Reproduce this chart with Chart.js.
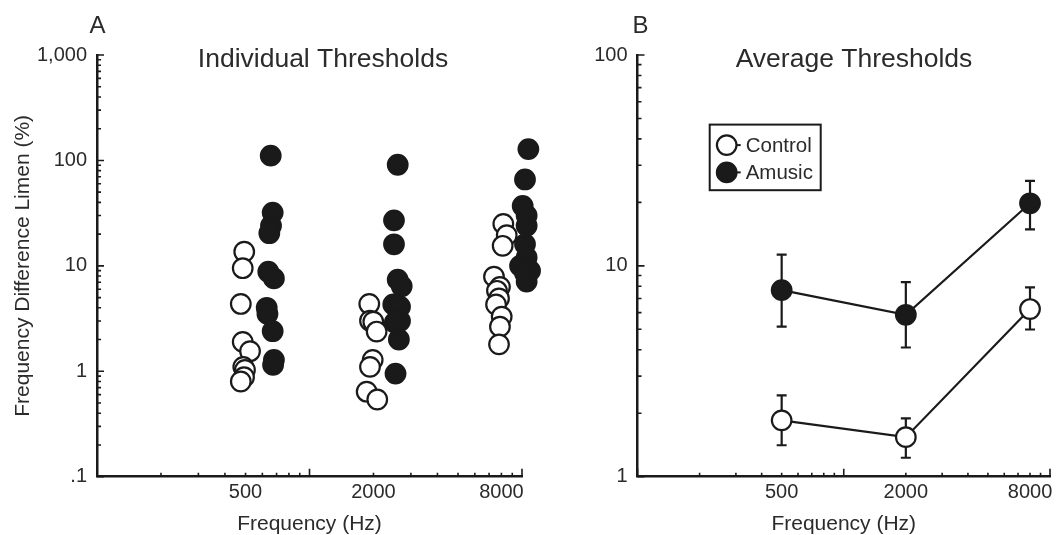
<!DOCTYPE html>
<html>
<head>
<meta charset="utf-8">
<title>Frequency difference limens</title>
<script src="https://cdn.jsdelivr.net/npm/chart.js@4.4.1/dist/chart.umd.min.js"></script>
<style>
  body { margin: 0; background: #fff; }
  #wrap { position: relative; width: 1062px; height: 535px; }
  canvas { position: absolute; top: 0; }
  #indiv { left: 0; }
  #avg { left: 560px; }
</style>
</head>
<body>
<div id="wrap">
  <canvas id="indiv" width="560" height="535"></canvas>
  <canvas id="avg" width="502" height="535"></canvas>
</div>
<script>
// Individual difference limens (%). Each listener sits a little apart from the
// band centre so the circles don't pile on top of each other.
const controlHz = [493, 485, 475, 485, 525, 488, 497, 492, 475,
                   1911, 1926, 1996, 2070, 1983, 1926, 1858, 2084,
                   8166, 8474, 8110, 7382, 7874, 7624, 7795, 7548, 8025, 7874, 7795];
const controlDL = [13.6, 9.5, 4.35, 1.9, 1.55, 1.1, 1.03, 0.88, 0.8,
                   4.35, 3.02, 2.95, 2.38, 1.28, 1.1, 0.64, 0.54,
                   25, 19.5, 15.5, 7.9, 6.3, 5.8, 4.9, 4.3, 3.3, 2.65, 1.8];
const amusicHz = [657, 671, 659, 647, 640, 680, 629, 634, 671, 680, 674,
                  2601, 2498, 2498, 2601, 2716, 2479, 2666, 2666, 2520, 2634, 2540,
                  10715, 10330, 10075, 10515, 10515, 10330, 10515, 9790, 10910, 10330, 10515];
const amusicDL = [111, 32, 24, 20.4, 8.8, 7.6, 4.0, 3.5, 2.4, 1.28, 1.15,
                  91, 27, 16, 7.4, 6.4, 4.3, 4.1, 3.0, 2.9, 2.0, 0.95,
                  128, 66, 37, 30, 24, 16, 12, 10, 9, 8.5, 7.1];

// group averages with error bar limits
const bands = [500, 2000, 8000];
const controlMean = [1.85, 1.54, 6.24];
const controlLow = [1.41, 1.23, 4.99];
const controlHigh = [2.43, 1.89, 7.9];
const amusicMean = [7.67, 5.86, 19.8];
const amusicLow = [5.15, 4.1, 14.9];
const amusicHigh = [11.3, 8.38, 25.3];

// labelled ticks
const freqLabels = [500, 2000, 8000];
const limenValuesA = [0.1, 1, 10, 100, 1000];
const limenTextA = ['.1', '1', '10', '100', '1,000'];
const limenValuesB = [1, 10, 100];
const limenTextB = ['1', '10', '100'];

const ink = '#1a1a1a';
const textColor = '#2b2b2b';
const fontFamily = '"Liberation Sans", Arial, Helvetica, sans-serif';

// 1..9 x 10^n marks between min and max
function logMarks(min, max) {
    const out = [];
    for (let dec = min; dec < max - 1e-9; dec *= 10) {
        for (let m = 1; m < 10; m++) out.push(Math.round(m * dec * 1000) / 1000);
    }
    out.push(max);
    return out;
}

function isDecade(v) {
    const l = Math.log10(v);
    return Math.abs(l - Math.round(l)) < 1e-9;
}

function freqAxis() {
    return {
        type: 'logarithmic',
        position: 'bottom',
        min: 100,
        max: 10000,
        grid: { display: false, drawTicks: false },
        border: { display: true, color: ink, width: 2.5 },
        afterBuildTicks: s => { s.ticks = logMarks(100, 10000).map(v => ({ value: v })); },
        afterFit: s => { s.height = 58.3; },
        ticks: {
            autoSkip: false,
            maxRotation: 0,
            padding: 4,
            color: textColor,
            font: { family: fontFamily, size: 20 },
            callback: v => freqLabels.includes(v) ? String(v) : ''
        },
        title: {
            display: true,
            text: 'Frequency (Hz)',
            color: textColor,
            font: { family: fontFamily, size: 21, lineHeight: 1 },
            padding: { top: 0, bottom: 0 }
        }
    };
}

function limenAxis(min, max, values, text, width, withTitle) {
    return {
        type: 'logarithmic',
        position: 'left',
        min: min,
        max: max,
        grid: { display: false, drawTicks: false },
        border: { display: true, color: ink, width: 2.5 },
        afterBuildTicks: s => { s.ticks = logMarks(min, max).map(v => ({ value: v })); },
        afterFit: s => { s.width = width; },
        ticks: {
            autoSkip: false,
            padding: 10,
            color: textColor,
            font: { family: fontFamily, size: 20 },
            callback: v => {
                const i = values.findIndex(t => Math.abs(t - v) < 1e-9);
                return i >= 0 ? text[i] : '';
            }
        },
        title: {
            display: withTitle,
            text: 'Frequency Difference Limen (%)',
            color: textColor,
            font: { family: fontFamily, size: 21, lineHeight: 1 },
            padding: { top: 13, bottom: 0 }
        }
    };
}

// inward tick marks, longer on the decades
const tickMarks = {
    id: 'tickMarks',
    beforeDatasetsDraw(chart) {
        const { ctx, chartArea: a, scales: { x, y } } = chart;
        ctx.save();
        ctx.strokeStyle = ink;
        ctx.lineWidth = 1.6;
        ctx.beginPath();
        x.ticks.forEach(t => {
            const px = x.getPixelForValue(t.value);
            const len = isDecade(t.value) ? 8 : 4;
            ctx.moveTo(px, a.bottom);
            ctx.lineTo(px, a.bottom - len);
        });
        y.ticks.forEach(t => {
            const py = y.getPixelForValue(t.value);
            const len = isDecade(t.value) ? 7 : 4;
            ctx.moveTo(a.left, py);
            ctx.lineTo(a.left + len, py);
        });
        ctx.stroke();
        ctx.restore();
    }
};

// panel letter and heading
const panelText = {
    id: 'panelText',
    afterDraw(chart, args, opts) {
        const ctx = chart.ctx;
        ctx.save();
        ctx.fillStyle = textColor;
        ctx.textAlign = 'center';
        ctx.textBaseline = 'alphabetic';
        ctx.font = '24px ' + fontFamily;
        ctx.fillText(opts.letter, opts.letterX, 33);
        ctx.font = '26.5px ' + fontFamily;
        ctx.fillText(opts.title, opts.titleX, 66.9);
        ctx.restore();
    }
};

// vertical error bars with caps, drawn under the lines and markers
const errorBars = {
    id: 'errorBars',
    beforeDatasetsDraw(chart) {
        const { ctx, scales: { x, y } } = chart;
        ctx.save();
        ctx.strokeStyle = ink;
        ctx.lineWidth = 2.2;
        chart.data.datasets.forEach(ds => {
            ds.data.forEach(pt => {
                const px = x.getPixelForValue(pt.x);
                const lo = y.getPixelForValue(pt.lo);
                const hi = y.getPixelForValue(pt.hi);
                ctx.beginPath();
                ctx.moveTo(px, lo); ctx.lineTo(px, hi);
                ctx.moveTo(px - 5, lo); ctx.lineTo(px + 5, lo);
                ctx.moveTo(px - 5, hi); ctx.lineTo(px + 5, hi);
                ctx.stroke();
            });
        });
        ctx.restore();
    }
};

// boxed legend inside the plot
const boxLegend = {
    id: 'boxLegend',
    afterDraw(chart, args, opts) {
        const ctx = chart.ctx;
        const b = opts.box;
        ctx.save();
        ctx.strokeStyle = ink;
        ctx.lineWidth = 2;
        ctx.strokeRect(b.x, b.y, b.w, b.h);
        chart.data.datasets.forEach((ds, i) => {
            const cy = opts.rowY[i];
            const cx = b.x + 17;
            ctx.strokeStyle = ink;
            ctx.lineWidth = 2;
            ctx.beginPath();
            ctx.moveTo(cx, cy);
            ctx.lineTo(cx + 14, cy);
            ctx.stroke();
            ctx.beginPath();
            ctx.arc(cx, cy, 9.8, 0, Math.PI * 2);
            ctx.fillStyle = ds.pointBackgroundColor;
            ctx.fill();
            ctx.lineWidth = 2.2;
            ctx.stroke();
            ctx.fillStyle = textColor;
            ctx.font = '20.5px ' + fontFamily;
            ctx.textAlign = 'left';
            ctx.textBaseline = 'alphabetic';
            ctx.fillText(ds.label, b.x + 36, cy + 7);
        });
        ctx.restore();
    }
};

const markerOpen = { pointBackgroundColor: '#ffffff', pointBorderColor: ink };
const markerFilled = { pointBackgroundColor: ink, pointBorderColor: ink };
const markerSize = { pointRadius: 9.8, pointBorderWidth: 2.2 };

const common = {
    responsive: false,
    animation: false,
    events: [],
    plugins: { legend: { display: false }, tooltip: { enabled: false } }
};

new Chart(document.getElementById('indiv'), {
    type: 'scatter',
    data: {
        datasets: [
            Object.assign({
                label: 'Control',
                data: controlHz.map((f, i) => ({ x: f, y: controlDL[i] })),
                clip: false
            }, markerOpen, markerSize),
            Object.assign({
                label: 'Amusic',
                data: amusicHz.map((f, i) => ({ x: f, y: amusicDL[i] })),
                clip: false
            }, markerFilled, markerSize)
        ]
    },
    options: Object.assign({}, common, {
        layout: { padding: { left: 0, right: 38, top: 55, bottom: 0 } },
        scales: {
            x: freqAxis(),
            y: limenAxis(0.1, 1000, limenValuesA, limenTextA, 97, true)
        },
        plugins: Object.assign({}, common.plugins, {
            panelText: { letter: 'A', letterX: 97.4, title: 'Individual Thresholds', titleX: 323 }
        })
    }),
    plugins: [tickMarks, panelText]
});

new Chart(document.getElementById('avg'), {
    type: 'scatter',
    data: {
        datasets: [
            Object.assign({
                label: 'Control',
                data: bands.map((f, i) => ({ x: f, y: controlMean[i], lo: controlLow[i], hi: controlHigh[i] })),
                showLine: true,
                borderColor: ink,
                borderWidth: 2.2,
                clip: false
            }, markerOpen, markerSize),
            Object.assign({
                label: 'Amusic',
                data: bands.map((f, i) => ({ x: f, y: amusicMean[i], lo: amusicLow[i], hi: amusicHigh[i] })),
                showLine: true,
                borderColor: ink,
                borderWidth: 2.2,
                clip: false
            }, markerFilled, markerSize)
        ]
    },
    options: Object.assign({}, common, {
        layout: { padding: { left: 0, right: 5.3, top: 55, bottom: 0 } },
        scales: {
            x: freqAxis(),
            y: limenAxis(1, 100, limenValuesB, limenTextB, 77.5, false)
        },
        plugins: Object.assign({}, common.plugins, {
            panelText: { letter: 'B', letterX: 80.6, title: 'Average Thresholds', titleX: 294 },
            boxLegend: { box: { x: 149.7, y: 124.6, w: 111, h: 65.6 }, rowY: [145.1, 172.4] }
        })
    }),
    plugins: [tickMarks, errorBars, panelText, boxLegend]
});
</script>
</body>
</html>
